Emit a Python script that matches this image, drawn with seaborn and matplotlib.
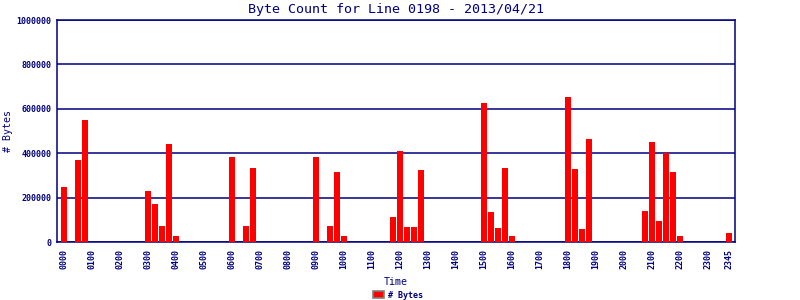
import matplotlib
matplotlib.use("Agg")
import matplotlib.pyplot as plt
import seaborn as sns
import pandas as pd
from matplotlib.patches import Patch

# time slots every 15 min
slots = [f"{h:02d}{m:02d}" for h in range(24) for m in (0, 15, 30, 45)]

# non-zero byte counts (slot label -> bytes)
nonzero_slots = ["0000", "0030", "0045",
                 "0300", "0315", "0330", "0345", "0400",
                 "0600", "0630", "0645",
                 "0900", "0930", "0945", "1000",
                 "1145", "1200", "1215", "1230", "1245",
                 "1500", "1515", "1530", "1545", "1600",
                 "1800", "1815", "1830", "1845",
                 "2045", "2100", "2115", "2130", "2145", "2200",
                 "2345"]
nonzero_values = [250000, 370000, 550000,
                  231000, 172000, 73000, 443000, 28000,
                  384000, 73000, 335000,
                  384000, 73000, 317000, 28000,
                  114000, 411000, 69000, 69000, 326000,
                  627000, 137000, 64000, 335000, 28000,
                  654000, 330000, 60000, 465000,
                  141000, 452000, 96000, 402000, 317000, 28000,
                  42000]

tick_labels = [f"{h:02d}00" for h in range(24)] + ["2345"]
y_ticks = [0, 200000, 400000, 600000, 800000, 1000000]

lookup = dict(zip(nonzero_slots, nonzero_values))
df = pd.DataFrame({"Time": slots, "Bytes": [lookup.get(s, 0) for s in slots]})

navy = "#000080"
sns.set_style("white")
plt.rcParams["font.family"] = ["DejaVu Sans Mono", "DejaVu Sans"]

fig = plt.figure(figsize=(8, 3), dpi=100)
ax = fig.add_axes([57/800, 1-242/300, (735-57)/800, (242-20)/300])

sns.barplot(data=df, x="Time", y="Bytes", order=slots, color="#ff0000",
            saturation=1, width=0.86, linewidth=0, ax=ax, zorder=3)

ax.set_xlim(-1, 95.9)
ax.set_ylim(0, 1000000)
ax.set_yticks(y_ticks)
ax.set_yticklabels([str(v) for v in y_ticks], fontsize=6, fontweight="bold", color=navy)
ax.yaxis.grid(True, color=navy, linewidth=1.1, zorder=1)
ax.set_axisbelow(True)

pos = [slots.index(t) for t in tick_labels]
ax.set_xticks(pos)
ax.set_xticklabels(tick_labels, rotation=90, fontsize=6, fontweight="bold", color=navy)
ax.tick_params(axis="both", length=0)
ax.tick_params(axis="x", pad=5)
ax.tick_params(axis="y", pad=4)

for s in ax.spines.values():
    s.set_color(navy)
    s.set_linewidth(1.1)
    s.set_visible(True)

ax.set_xlabel("Time", fontsize=7.2, color=navy, labelpad=6)
ax.set_ylabel("# Bytes", fontsize=7.2, color=navy)
ax.yaxis.set_label_coords(-44/678, 0.5)
fig.text(396/800, 1-9/300, "Byte Count for Line 0198 - 2013/04/21",
         ha="center", va="center", fontsize=9.6, color=navy)

handles = [Patch(facecolor="#ff0000", edgecolor="#808080", linewidth=1.2, label="# Bytes")]
fig.legend(handles=handles, loc="center", bbox_to_anchor=(398/800, 1-295/300),
           frameon=False, prop={"size": 6, "weight": "bold"},
           handlelength=1.3, handleheight=0.9, handletextpad=0.4,
           labelcolor=navy, borderpad=0)

fig.savefig("out.png", dpi=100)
